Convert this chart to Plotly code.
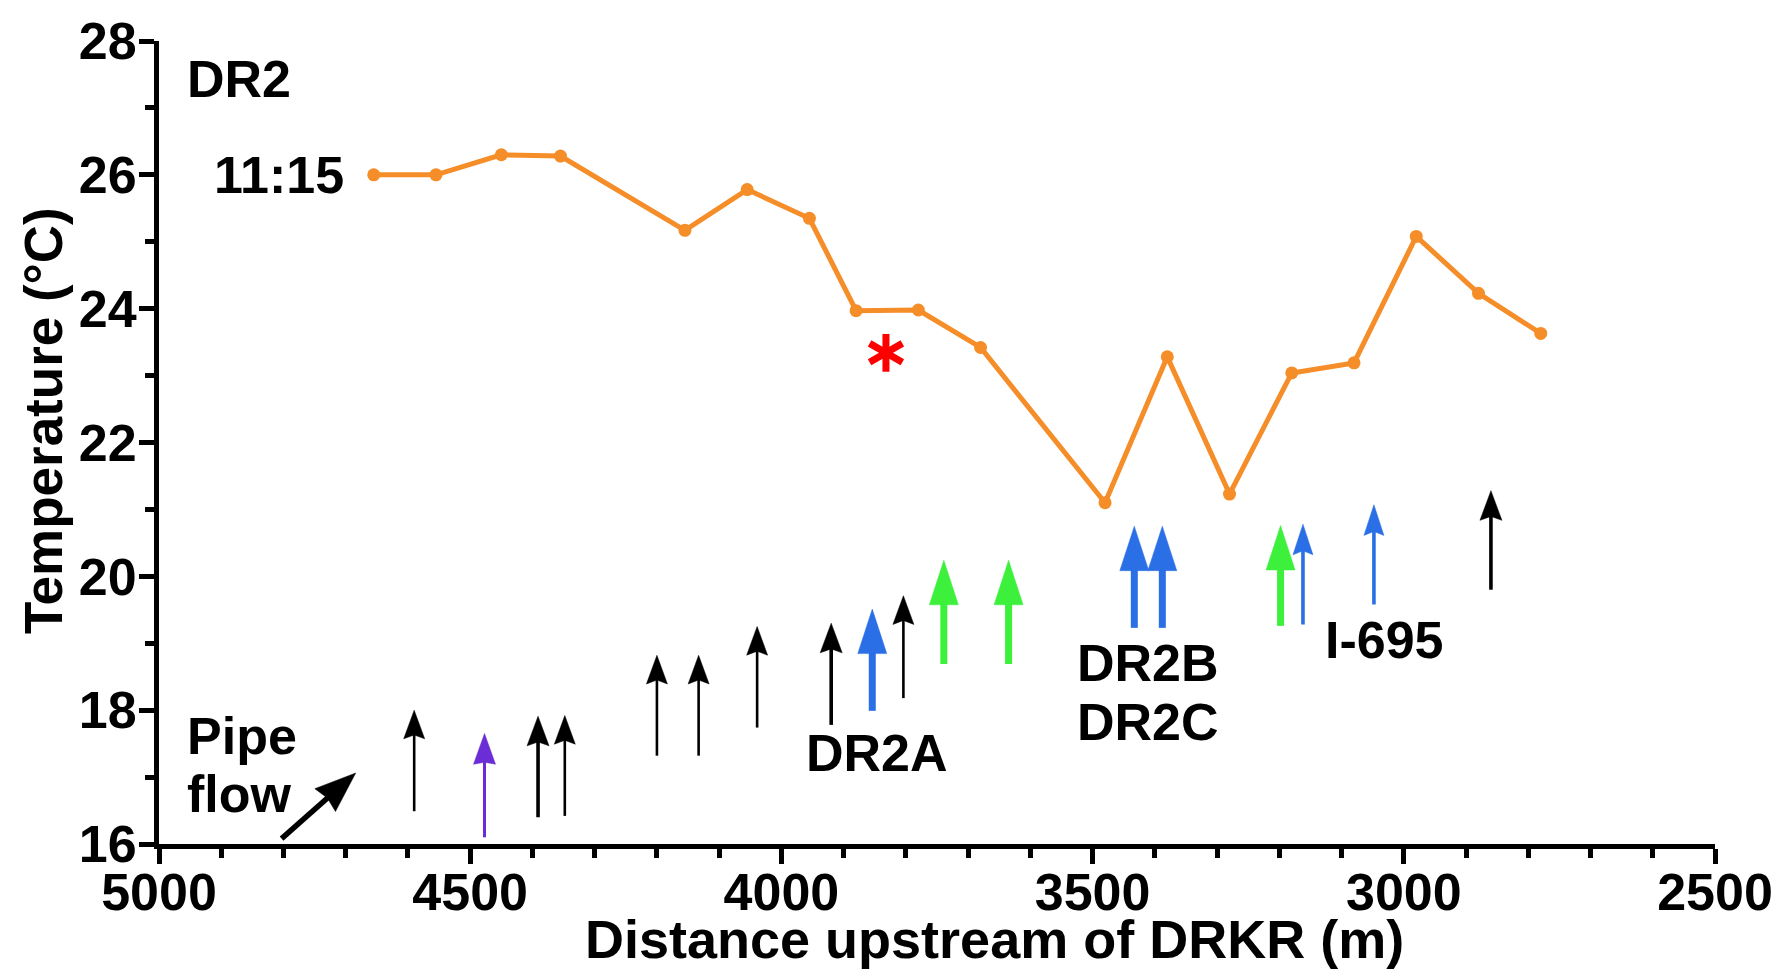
import math
import plotly.graph_objects as go

# ---- temperature profile, DR2 at 11:15 ----
distance_m = [4655, 4555, 4450, 4355, 4155, 4055, 3955, 3880, 3780, 3680,
              3480, 3380, 3280, 3180, 3080, 2980, 2880, 2780]
temperature_c = [26.0, 26.0, 26.3, 26.28, 25.17, 25.78, 25.35, 23.97, 23.98, 23.42,
                 21.1, 23.28, 21.23, 23.04, 23.19, 25.08, 24.23, 23.63]

# ---- inflow arrows: location, tail and tip (in degC units), kind ----
inflow_x = [4590, 4477, 4391, 4348, 4200, 4133, 4039, 3920, 3854, 3804,
            3739, 3635, 3433, 3388, 3198, 3162, 3048, 2860]
inflow_tail = [16.49, 16.10, 16.40, 16.42, 17.32, 17.32, 17.74, 17.78, 17.99, 18.18,
               18.69, 18.69, 19.23, 19.23, 19.26, 19.28, 19.58, 19.80]
inflow_tip = [18.00, 17.65, 17.91, 17.92, 18.82, 18.82, 19.25, 19.30, 19.51, 19.71,
              20.24, 20.24, 20.75, 20.75, 20.76, 20.78, 21.07, 21.28]
inflow_kind = ["thin", "purple", "black", "thin", "thin", "thin", "thin", "black", "blue", "thin",
               "green", "green", "blue", "blue", "green", "bluethin", "bluethin", "black"]

# pipe-flow direction arrow (tail -> tip)
pipe_arrow_x = [4803, 4684]
pipe_arrow_y = [16.08, 17.06]

# significance marker
star_x = [3832]
star_y = [23.34]

# text labels
label_text = ["DR2", "11:15", "Pipe", "flow", "DR2A", "DR2B", "DR2C", "I-695"]
label_x = [4958, 4700, 4958, 4958, 3963, 3528, 3528, 3130]
label_y = [27.43, 26.0, 17.62, 16.74, 17.36, 18.71, 17.82, 19.05]
label_anchor = ["left", "right", "left", "left", "left", "left", "left", "left"]

# ---- figure geometry ----
W, H = 1785, 971
M_L, M_R, M_T, M_B = 159, 68, 32, 127
X_RANGE = [5000, 2500]
Y_RANGE = [16, 28]
px_per_m = (W - M_L - M_R) / abs(X_RANGE[1] - X_RANGE[0])
px_per_deg = (H - M_T - M_B) / (Y_RANGE[1] - Y_RANGE[0])

ORANGE = "#F58D28"
BLUE = "#2A6FE6"
GREEN = "#3CF03C"
PURPLE = "#6B2DD6"
FONT = "Liberation Sans, Arial, sans-serif"
TXT = 52

# arrow styles: colour, shaft width, head length, head width, notch depth (pixels)
STYLES = {
    "thin": ("black", 2.6, 29, 21, 4),
    "black": ("black", 3.6, 30, 22, 4),
    "purple": (PURPLE, 3.0, 31, 22, 2),
    "blue": (BLUE, 7.0, 45, 29, 0),
    "green": (GREEN, 7.0, 45, 29, 0),
    "bluethin": (BLUE, 3.6, 31, 20, 4),
}


def to_px(x, y):
    return ((X_RANGE[0] - x) * px_per_m, (y - Y_RANGE[0]) * px_per_deg)


def to_data(px, py):
    return (X_RANGE[0] - px / px_per_m, Y_RANGE[0] + py / px_per_deg)


def arrow_traces(x0, y0, x1, y1, color, shaft, head_len, head_w, notch):
    """Shaft line plus filled head polygon, built in pixel space."""
    p0 = to_px(x0, y0)
    p1 = to_px(x1, y1)
    dx, dy = p1[0] - p0[0], p1[1] - p0[1]
    L = math.hypot(dx, dy)
    ux, uy = dx / L, dy / L
    nx, ny = -uy, ux
    base = (p1[0] - ux * head_len, p1[1] - uy * head_len)
    left = (base[0] + nx * head_w / 2, base[1] + ny * head_w / 2)
    right = (base[0] - nx * head_w / 2, base[1] - ny * head_w / 2)
    inner = (base[0] + ux * notch, base[1] + uy * notch)
    shaft_end = (inner[0] + ux * 2, inner[1] + uy * 2)
    poly = [p1, left, inner, right, p1]
    hx, hy = zip(*[to_data(*p) for p in poly])
    sx, sy = zip(*[to_data(*p) for p in (p0, shaft_end)])
    return [
        go.Scatter(x=list(sx), y=list(sy), mode="lines",
                   line=dict(color=color, width=shaft), hoverinfo="skip",
                   showlegend=False),
        go.Scatter(x=list(hx), y=list(hy), mode="lines", fill="toself",
                   fillcolor=color, line=dict(color=color, width=0.5),
                   hoverinfo="skip", showlegend=False),
    ]


fig = go.Figure()

for xv, t0, t1, kind in zip(inflow_x, inflow_tail, inflow_tip, inflow_kind):
    color, shaft, hl, hw, notch = STYLES[kind]
    for tr in arrow_traces(xv, t0, xv, t1, color, shaft, hl, hw, notch):
        fig.add_trace(tr)

for tr in arrow_traces(pipe_arrow_x[0], pipe_arrow_y[0], pipe_arrow_x[1], pipe_arrow_y[1],
                       "black", 5.5, 41, 31, 3):
    fig.add_trace(tr)

# temperature line
fig.add_trace(go.Scatter(
    x=distance_m, y=temperature_c, mode="lines+markers",
    line=dict(color=ORANGE, width=5),
    marker=dict(color=ORANGE, size=13),
    name="11:15", showlegend=False,
))

# six-armed asterisk from three rotated strokes
fig.add_trace(go.Scatter(
    x=star_x * 3, y=star_y * 3, mode="markers",
    marker=dict(symbol="line-ns", size=27, angle=[0, 60, 120],
                line=dict(color="#FF0000", width=7)),
    hoverinfo="skip", showlegend=False,
))

for txt, xv, yv, anc in zip(label_text, label_x, label_y, label_anchor):
    fig.add_annotation(x=xv, y=yv, xref="x", yref="y", text=txt, showarrow=False,
                       xanchor=anc, yanchor="middle",
                       font=dict(family=FONT, size=TXT, color="black", weight="bold"))

# axis titles
fig.add_annotation(x=(996 - M_L) / (W - M_L - M_R), y=(H - M_B - 940) / (H - M_T - M_B),
                   xref="paper", yref="paper", text="Distance upstream of DRKR (m)",
                   showarrow=False, xanchor="center", yanchor="middle",
                   font=dict(family=FONT, size=54, color="black", weight="bold"))
fig.add_annotation(x=(44 - M_L) / (W - M_L - M_R), y=(H - M_B - 416) / (H - M_T - M_B),
                   xref="paper", yref="paper", text="Temperature (°C)", textangle=-90,
                   showarrow=False, xanchor="center", yanchor="middle",
                   font=dict(family=FONT, size=53, color="black", weight="bold"))

axis_common = dict(
    showgrid=False, zeroline=False, showline=True, linecolor="black", linewidth=5,
    ticks="outside", tickcolor="black", tickwidth=5, ticklen=15,
    tickfont=dict(family=FONT, size=TXT, color="black", weight="bold"),
)

fig.update_xaxes(range=X_RANGE, tick0=2500, dtick=500, ticklabelstandoff=-16,
                 minor=dict(dtick=100, ticks="outside", ticklen=9, tickwidth=5,
                            tickcolor="black", showgrid=False),
                 **axis_common)
fig.update_yaxes(range=Y_RANGE, tick0=16, dtick=2, ticklabelstandoff=-8,
                 minor=dict(dtick=1, ticks="outside", ticklen=9, tickwidth=5,
                            tickcolor="black", showgrid=False),
                 **axis_common)

fig.update_layout(
    width=W, height=H,
    margin=dict(l=M_L, r=M_R, t=M_T, b=M_B),
    plot_bgcolor="white", paper_bgcolor="white",
    showlegend=False,
)

fig.write_html("out.html")
